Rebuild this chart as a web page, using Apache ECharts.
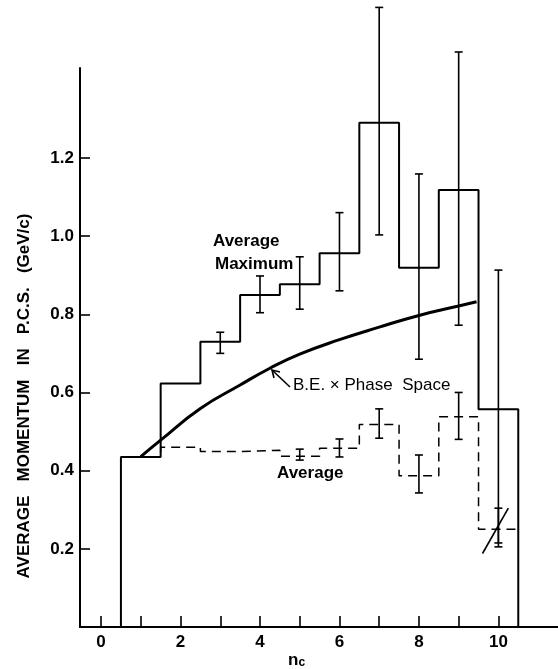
<!DOCTYPE html>
<html>
<head>
<meta charset="utf-8">
<script src="https://cdn.jsdelivr.net/npm/echarts@6/dist/echarts.min.js"></script>
<style>
  html, body { margin: 0; padding: 0; background: #fff; }
  #main { width: 558px; height: 669px; }
</style>
</head>
<body>
<div id="main"></div>
<script>
var chart = echarts.init(document.getElementById("main"), null, { renderer: "canvas" });

// multiplicity bins n_c
var nBins = [1, 2, 3, 4, 5, 6, 7, 8, 9, 10];
// Average Maximum momentum (solid histogram) + errors
var avgMax = [0.435, 0.623, 0.730, 0.849, 0.877, 0.956, 1.290, 0.919, 1.118, 0.557];
var avgMaxLo = [null, null, 0.700, 0.804, 0.813, 0.860, 1.003, 0.685, 0.772, 0.205];
var avgMaxHi = [null, null, 0.754, 0.898, 0.947, 1.060, 1.585, 1.159, 1.471, 0.913];
// Average momentum (dashed histogram) + errors
var avgMom = [0.435, 0.460, 0.449, 0.452, 0.437, 0.457, 0.518, 0.387, 0.538, 0.250];
var avgMomLo = [null, null, null, null, 0.427, 0.435, 0.483, 0.343, 0.480, 0.215];
var avgMomHi = [null, null, null, null, 0.455, 0.481, 0.558, 0.440, 0.600, 0.304];
// B.E. x Phase Space curve
var beCurve = [[1.0, 0.436], [1.5, 0.478], [2.5, 0.559], [3.5, 0.619], [4.25, 0.662],
  [5, 0.698], [6, 0.735], [7, 0.767], [8, 0.797], [9, 0.821], [9.45, 0.832]];
// slanted stroke through the n=10 average point
var slashLine = [[9.6, 0.188], [10.25, 0.304]];

var xTicks = [0, 1, 2, 3, 4, 5, 6, 7, 8, 9, 10];
var xLabels = [0, 2, 4, 6, 8, 10];
var yTicks = [0.2, 0.4, 0.6, 0.8, 1.0, 1.2];

// histogram outline from bin values (bin width 1, centred on n)
function stepPath(vals, fromZero) {
  var pts = [];
  for (var i = 0; i < vals.length; i++) {
    var lo = nBins[i] - 0.5, hi = nBins[i] + 0.5;
    if (i === 0 && fromZero) pts.push([lo, 0]);
    pts.push([lo, vals[i]]);
    pts.push([hi, vals[i]]);
  }
  if (fromZero) pts.push([nBins[vals.length - 1] + 0.5, 0]);
  return pts;
}
function errData(lo, hi) {
  var out = [];
  for (var i = 0; i < nBins.length; i++) {
    if (lo[i] != null) out.push([nBins[i], lo[i], hi[i]]);
  }
  return out;
}
function errRender(params, api) {
  var x = api.value(0);
  var p1 = api.coord([x, api.value(1)]);
  var p2 = api.coord([x, api.value(2)]);
  var w = 4;
  var st = { stroke: "#000", lineWidth: 1.6 };
  return {
    type: "group",
    children: [
      { type: "line", shape: { x1: p1[0], y1: p1[1], x2: p2[0], y2: p2[1] }, style: st },
      { type: "line", shape: { x1: p1[0] - w, y1: p1[1], x2: p1[0] + w, y2: p1[1] }, style: st },
      { type: "line", shape: { x1: p2[0] - w, y1: p2[1], x2: p2[0] + w, y2: p2[1] }, style: st }
    ]
  };
}

var txtFont = "Liberation Sans";

var option = {
  backgroundColor: "#fff",
  animation: false,
  grid: { left: 80, right: 0, top: 68, bottom: 42, outerBoundsMode: "none" },
  xAxis: {
    type: "value",
    min: -0.53,
    max: 11.5,
    axisLine: { show: true, onZero: false, lineStyle: { color: "#000", width: 2 } },
    axisTick: { show: true, inside: true, length: 11, customValues: xTicks, lineStyle: { color: "#000", width: 1.6 } },
    axisLabel: { customValues: xLabels, margin: 7, color: "#000", fontSize: 17, fontWeight: "bold", fontFamily: txtFont },
    splitLine: { show: false }
  },
  yAxis: {
    type: "value",
    min: 0,
    max: 1.43,
    axisLine: { show: true, onZero: false, lineStyle: { color: "#000", width: 2 } },
    axisTick: { show: true, inside: true, length: 10, customValues: yTicks, lineStyle: { color: "#000", width: 1.6 } },
    axisLabel: {
      customValues: yTicks, margin: 6, color: "#000", fontSize: 17, fontWeight: "bold", fontFamily: txtFont,
      formatter: function (v) { return v.toFixed(1); }
    },
    splitLine: { show: false }
  },
  graphic: [
    {
      type: "text", x: 24, y: 396, rotation: Math.PI / 2,
      style: { text: "AVERAGE   MOMENTUM   IN   P.C.S.   (GeV/c)", font: "bold 17px " + txtFont, fill: "#000", align: "center", verticalAlign: "middle" }
    },
    {
      type: "text", x: 288, y: 660,
      style: {
        text: "{n|n}{c|c}", fill: "#000", verticalAlign: "middle",
        rich: {
          n: { fontSize: 17, fontWeight: "bold", fontFamily: txtFont },
          c: { fontSize: 12, fontWeight: "bold", fontFamily: txtFont, padding: [6, 0, 0, 0] }
        }
      }
    },
    { type: "text", x: 213, y: 241, style: { text: "Average", font: "bold 17px " + txtFont, fill: "#000", verticalAlign: "middle" } },
    { type: "text", x: 215, y: 264, style: { text: "Maximum", font: "bold 17px " + txtFont, fill: "#000", verticalAlign: "middle" } },
    { type: "text", x: 293, y: 385, style: { text: "B.E. \u00d7 Phase  Space", font: "17px " + txtFont, fill: "#000", verticalAlign: "middle" } },
    { type: "text", x: 277, y: 473, style: { text: "Average", font: "bold 17px " + txtFont, fill: "#000", verticalAlign: "middle" } },
    { type: "polyline", shape: { points: [[290, 387], [272, 370]] }, style: { stroke: "#000", lineWidth: 1.6, fill: null } },
    { type: "polyline", shape: { points: [[274, 378], [272, 370], [280, 372]] }, style: { stroke: "#000", lineWidth: 1.6, fill: null } }
  ],
  series: [
    {
      name: "Average Maximum",
      type: "line",
      data: stepPath(avgMax, true),
      showSymbol: false,
      lineStyle: { color: "#000", width: 2 },
      z: 3
    },
    {
      name: "Average",
      type: "line",
      data: stepPath(avgMom, false),
      showSymbol: false,
      lineStyle: { color: "#000", width: 1.5, type: [9, 6] },
      z: 3
    },
    {
      name: "B.E. x Phase Space",
      type: "line",
      data: beCurve,
      smooth: true,
      showSymbol: false,
      lineStyle: { color: "#000", width: 3 },
      z: 4
    },
    {
      name: "slash",
      type: "line",
      data: slashLine,
      showSymbol: false,
      lineStyle: { color: "#000", width: 1.6 },
      z: 4
    },
    {
      name: "max errors",
      type: "custom",
      data: errData(avgMaxLo, avgMaxHi),
      renderItem: errRender,
      clip: false,
      z: 5
    },
    {
      name: "avg errors",
      type: "custom",
      data: errData(avgMomLo, avgMomHi),
      renderItem: errRender,
      clip: false,
      z: 5
    }
  ]
};
chart.setOption(option);
</script>
</body>
</html>
